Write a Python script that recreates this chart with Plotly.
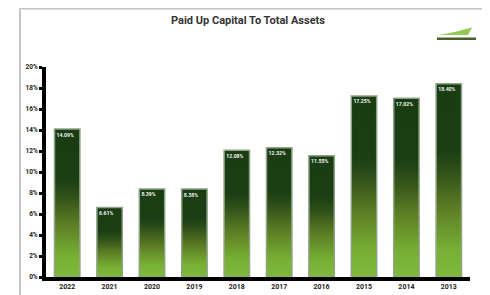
import plotly.graph_objects as go

years = ["2022", "2021", "2020", "2019", "2018", "2017", "2016", "2015", "2014", "2013"]
values = [14.09, 6.61, 8.39, 8.38, 12.08, 12.32, 11.55, 17.25, 17.02, 18.40]
labels = ["14.09%", "6.61%", "8.39%", "8.38%", "12.08%", "12.32%", "11.55%", "17.25%", "17.02%", "18.40%"]
y_ticks = [0, 2, 4, 6, 8, 10, 12, 14, 16, 18, 20]
y_tick_text = [f"{v}%" for v in y_ticks]

# page body adds an 8px offset; work in reference-pixel coordinates
O = 8
W, H = 490 - O, 295 - O
L, R, T, B = 46 - O, 20, 67 - O, 18
pw, ph = W - L - R, H - T - B

def px_x(p):
    return (p - O - L) / pw

def px_y(p):
    return (H - B - (p - O)) / ph

half = 0.3
grad = [[0.0, "#7fba3c"], [0.14, "#77b034"], [0.36, "#5c7c24"], [0.55, "#2f5019"],
        [0.66, "#1b3e14"], [1.0, "#1a3c13"]]

fig = go.Figure()
for i, (yr, v) in enumerate(zip(years, values)):
    fig.add_trace(go.Scatter(
        x=[i - half, i + half, i + half, i - half, i - half],
        y=[0, 0, v, v, 0],
        mode="lines", fill="toself",
        fillgradient=dict(type="vertical", colorscale=grad, start=0, stop=v),
        line=dict(color="#8fa386", width=1.5),
        hoverinfo="skip", showlegend=False,
    ))

fig.add_trace(go.Scatter(
    x=[i - 0.25 for i in range(len(years))],
    y=[v - 0.6 for v in values],
    mode="text", text=[f"<b>{t}</b>" for t in labels], textposition="middle right",
    textfont=dict(color="#f2f2f2", size=5.2, family="Roboto"),
    hoverinfo="skip", showlegend=False,
))

fig.update_layout(
    width=W, height=H,
    margin=dict(l=L, r=R, t=T, b=B, autoexpand=False),
    paper_bgcolor="white", plot_bgcolor="white",
    font=dict(family="Roboto", color="#222"),
    title=dict(text="<b>Paid Up Capital To Total Assets</b>", x=px_x(248), xref="paper",
               xanchor="center", y=1 - (20 - O) / H, yanchor="middle",
               font=dict(size=11, color="#333", family="Roboto")),
    xaxis=dict(range=[-0.5, len(years) - 0.5], tickvals=list(range(len(years))),
               ticktext=[f"<b>{y}</b>" for y in years], showgrid=False, zeroline=False,
               showline=True, linecolor="black", linewidth=4, ticks="", automargin=False,
               tickfont=dict(size=7, color="#222"), fixedrange=True),
    yaxis=dict(range=[0, 20], tickvals=y_ticks, ticktext=[f"<b>{t}</b>" for t in y_tick_text],
               showgrid=False, zeroline=False, showline=True, linecolor="black", linewidth=4,
               ticks="outside", ticklen=3, tickwidth=3, tickcolor="black", automargin=False,
               tickfont=dict(size=6.5, color="#222"), fixedrange=True),
    shapes=[
        dict(type="line", xref="paper", yref="paper", x0=px_x(20), x1=px_x(20), y0=px_y(8), y1=px_y(300),
             line=dict(color="#c4c4c4", width=2)),
        dict(type="line", xref="paper", yref="paper", x0=px_x(19), x1=px_x(495), y0=px_y(8.6), y1=px_y(8.6),
             line=dict(color="#c4c4c4", width=2)),
        dict(type="rect", xref="paper", yref="paper", x0=px_x(437), x1=px_x(476), y0=px_y(40), y1=px_y(37.5),
             line=dict(width=0), fillcolor="#4a5f2c"),
        dict(type="path", xref="paper", yref="paper",
             path=f"M {px_x(438)} {px_y(35)} Q {px_x(452)} {px_y(33)} {px_x(462)} {px_y(30)} "
                  f"L {px_x(472)} {px_y(27.5)} L {px_x(468)} {px_y(35)} Z",
             line=dict(width=0), fillcolor="#93c952"),
    ],
)

fig.write_html("out.html")
